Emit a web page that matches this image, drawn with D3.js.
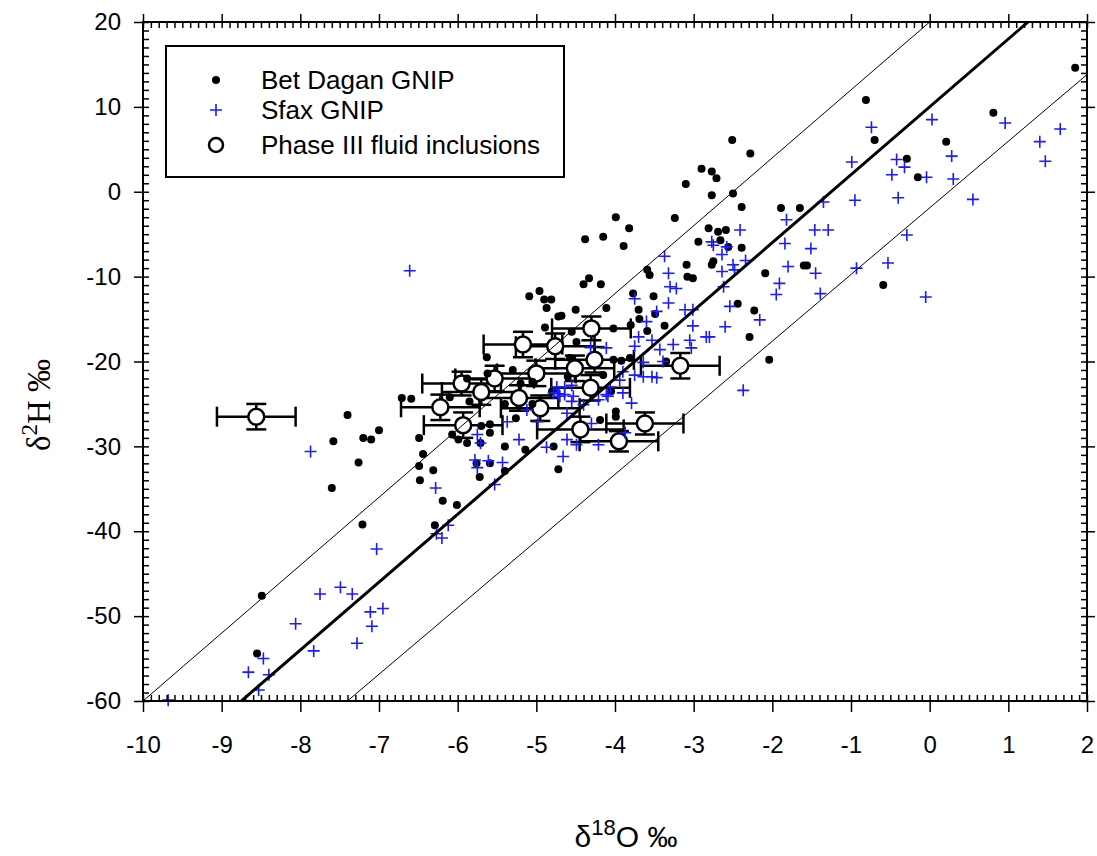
<!DOCTYPE html>
<html>
<head>
<meta charset="utf-8">
<script src="https://cdn.jsdelivr.net/npm/d3@7/dist/d3.min.js"></script>
<style>
  body { margin: 0; background: #fff; }
  svg { display: block; }
</style>
</head>
<body>
<svg id="canvas"></svg>
<script>
// Bet Dagan GNIP  [d18O, d2H]
const betDagan = [
  [-6.59,-24.4],[-7.40,-26.3],[-7.58,-29.4],[-7.20,-29.0],[-7.10,-29.2],[-7.00,-28.1],[-7.26,-31.9],
  [-7.60,-34.9],[-7.21,-39.2],[-8.49,-47.6],[-8.55,-54.4],[-6.49,-29.0],[-6.71,-24.3],
  [-6.44,-30.9],[-6.49,-32.3],[-6.31,-32.8],[-6.48,-34.0],[-6.19,-36.4],[-6.01,-36.9],[-6.29,-39.3],
  [-6.07,-28.6],[-5.99,-29.2],[-5.88,-29.6],[-5.70,-27.6],[-5.59,-27.4],[-5.59,-28.4],[-5.76,-32.0],
  [-5.59,-32.0],[-5.72,-33.6],[-5.40,-30.0],[-5.14,-30.4],[-5.26,-26.7],[-5.40,-32.9],[-4.72,-32.7],
  [-5.71,-29.6],[-4.19,-26.9],[-3.99,-25.9],[-3.99,-26.5],[-4.78,-30.0],
  [-5.09,-12.3],[-4.96,-11.7],[-4.90,-12.7],[-4.81,-12.7],[-4.87,-13.7],[-4.89,-16.0],[-4.72,-14.7],
  [-5.63,-19.5],
  [-4.38,-5.6],[-3.89,-6.4],[-2.94,-5.9],[-3.09,-8.6],[-3.59,-9.2],[-3.56,-9.8],[-3.08,-10.0],
  [-3.01,-10.2],[-4.33,-10.2],[-4.40,-10.9],[-4.18,-10.9],[-3.77,-12.0],[-3.51,-12.3],[-4.50,-13.9],
  [-4.11,-13.7],[-4.68,-14.6],[-3.70,-13.9],[-3.69,-15.0],[-3.49,-14.4],[-3.37,-15.8],[-3.59,-16.4],
  [-3.80,-15.7],[-4.02,-16.1],[-4.55,-16.5],[-4.49,-17.7],[-4.02,-19.8],[-3.92,-19.9],[-3.81,-19.6],
  [-3.35,-20.0],[-4.57,-19.6],
  [-2.51,6.1],[-2.28,4.5],[-2.90,2.7],[-2.77,2.4],[-2.71,1.6],[-3.10,0.9],[-2.77,-0.4],[-2.50,-0.2],
  [-2.39,-1.8],[-3.99,-3.0],[-3.82,-4.3],[-3.24,-3.1],[-4.15,-5.3],[-2.81,-4.3],[-2.69,-4.7],
  [-2.59,-4.5],[-2.66,-5.7],[-2.39,-6.6],
  [-2.56,-6.5],[-2.75,-8.2],[-2.77,-8.6],[-1.60,-8.7],[-1.56,-8.7],[-2.09,-9.6],[-0.59,-11.0],
  [-2.44,-13.2],[-2.23,-14.0],[-2.29,-17.1],[-2.04,-19.8],
  [-0.81,10.8],[-0.70,6.1],[0.81,9.3],[0.21,5.9],[-0.29,3.9],[-0.15,1.7],[-1.89,-1.9],[-1.65,-1.9],
  [1.85,14.6],
  [-5.88,-22.0],[-5.62,-21.4],[-5.30,-21.0],[-5.20,-22.6],[-5.05,-22.4],[-6.10,-24.2],[-5.85,-24.7],
  [-5.40,-25.0],[-5.05,-25.0],[-4.80,-23.5],[-4.60,-21.8],[-4.15,-21.6],[-4.05,-23.5]
];

// Sfax GNIP  [d18O, d2H]
const sfax = [
  [-7.87,-30.6],[-7.03,-42.1],[-7.75,-47.4],[-7.49,-46.6],[-7.34,-47.4],[-8.06,-50.9],[-7.11,-49.5],
  [-6.95,-49.1],[-7.09,-51.2],[-7.28,-53.2],[-7.83,-54.1],[-8.47,-55.0],[-8.66,-56.6],[-8.40,-56.9],
  [-8.53,-58.7],[-9.68,-59.9],[-6.61,-9.3],
  [-5.37,-27.1],[-5.75,-28.6],[-5.71,-29.6],[-5.22,-29.2],[-5.78,-31.6],[-5.75,-32.5],[-5.61,-31.7],
  [-5.43,-31.9],[-5.53,-34.5],[-6.28,-34.9],[-6.12,-39.3],[-6.20,-40.8],[-6.27,-40.3],[-4.87,-30.1],
  [-4.98,-27.1],[-5.12,-25.7],
  [-4.09,-24.1],[-3.90,-23.7],[-3.79,-24.9],[-4.66,-31.2],[-4.21,-29.8],[-4.49,-29.8],[-4.61,-29.2],
  [-4.30,-27.3],[-3.87,-28.4],[-4.61,-26.1],[-4.70,-24.1],[-4.64,-23.9],[-4.55,-24.7],[-4.53,-24.1],
  [-4.40,-25.1],[-4.21,-24.5],
  [-3.37,-7.6],[-3.32,-9.6],[-3.30,-11.2],[-3.22,-11.4],[-3.32,-13.1],[-3.75,-12.6],[-3.47,-14.1],
  [-3.11,-13.9],[-3.01,-13.9],[-3.01,-15.8],[-3.60,-15.3],[-3.70,-17.1],[-3.53,-17.5],[-3.75,-18.2],
  [-4.11,-18.4],[-3.43,-18.6],[-3.26,-18.0],[-3.05,-17.5],[-3.03,-18.4],[-2.84,-17.1],[-3.39,-20.0],
  [-3.64,-20.1],[-3.75,-21.6],[-3.64,-21.8],[-3.53,-21.8],[-3.47,-21.9],[-3.90,-21.2],[-3.94,-22.2],
  [-4.11,-23.9],[-4.06,-23.0],[-4.64,-23.0],[-4.55,-22.8],[-4.78,-23.7],[-4.31,-18.3],
  [-4.74,-23.0],[-4.72,-23.8],
  [-2.41,-4.5],[-2.77,-5.9],[-2.75,-6.3],[-2.58,-6.5],[-2.64,-7.4],[-1.46,-4.5],[-1.29,-4.5],
  [-1.84,-6.1],[-1.51,-6.7],[-2.34,-8.1],[-2.50,-8.6],[-2.48,-9.2],[-2.64,-9.4],[-1.80,-8.8],
  [-1.45,-9.6],[-0.93,-9.0],[-0.53,-8.4],[-1.91,-10.8],[-1.95,-12.1],[-1.39,-12.0],[-2.62,-11.2],
  [-2.54,-13.5],[-2.16,-15.1],[-2.60,-15.9],[-2.80,-17.1],[-2.37,-23.4],
  [-0.74,7.6],[0.03,8.5],[0.96,8.1],[1.66,7.4],[1.40,5.9],[1.47,3.6],[0.28,4.2],[-0.42,3.8],
  [-0.32,2.9],[-0.48,2.0],[-0.04,1.7],[0.30,1.5],[-0.99,3.5],[-0.95,-1.0],[-0.40,-0.7],[0.55,-0.9],
  [-1.35,-1.2],[-1.82,-3.3],[-0.29,-5.1],[-0.05,-12.4]
];

// Phase III fluid inclusions  [d18O, d2H, err d18O, err d2H]
const inclusions = [
  [-8.56,-26.5,0.50,1.5],[-5.95,-22.6,0.50,1.4],[-6.22,-25.4,0.50,1.5],[-5.93,-27.5,0.50,1.5],
  [-5.70,-23.6,0.50,1.5],[-5.53,-22.0,0.50,1.5],[-5.17,-18.0,0.50,1.5],[-5.22,-24.3,0.50,1.5],
  [-5.00,-21.4,0.50,1.5],[-4.95,-25.5,0.50,1.5],[-4.76,-18.2,0.50,1.5],[-4.51,-20.8,0.50,1.5],
  [-4.30,-16.1,0.50,1.4],[-4.26,-19.8,0.50,1.5],[-4.31,-23.1,0.50,1.5],[-4.44,-28.0,0.55,1.5],
  [-3.95,-29.4,0.50,1.2],[-3.62,-27.3,0.49,1.3],[-3.17,-20.5,0.50,1.5]
];

// reference lines  d2H = slope * d18O + intercept
const refLines = [
  { slope: 8, intercept: 20, width: 1 },
  { slope: 8, intercept: 10, width: 3 },
  { slope: 7.85, intercept: -1.9, width: 1 }
];

const xTicks = d3.range(-10, 2.01, 1);
const yTicks = d3.range(-60, 20.01, 10);
const legendLabels = ["Bet Dagan GNIP", "Sfax GNIP", "Phase III fluid inclusions"];

const svgWidth = 1097;
const svgHeight = 856;
const padLeft = 143, padRight = 1087, padTop = 22, padBottom = 701;

const svg = d3.select("#canvas")
    .attr("width", svgWidth)
    .attr("height", svgHeight)
    .style("background-color", "white");

const xScale = d3.scaleLinear().domain([-10, 2]).range([padLeft, padRight]);
const yScale = d3.scaleLinear().domain([-60, 20]).range([padBottom, padTop]);

const plot = svg.append("g");
plot.append("clipPath").attr("id", "clip")
    .append("rect")
    .attr("x", padLeft).attr("y", padTop)
    .attr("width", padRight - padLeft).attr("height", padBottom - padTop);

const blue = "#1a1aff";
const dotR = 4;

// fluid inclusions with error bars
const inc = plot.append("g").attr("clip-path", "url(#clip)");
inclusions.forEach(d => {
    const cx = xScale(d[0]), cy = yScale(d[1]);
    const x0 = xScale(d[0] - d[2]), x1 = xScale(d[0] + d[2]);
    const y0 = yScale(d[1] + d[3]), y1 = yScale(d[1] - d[3]);
    const g = inc.append("g").attr("stroke", "black").attr("stroke-width", 2.5);
    g.append("line").attr("x1", x0).attr("x2", x1).attr("y1", cy).attr("y2", cy);
    g.append("line").attr("x1", x0).attr("x2", x0).attr("y1", cy - 10).attr("y2", cy + 10);
    g.append("line").attr("x1", x1).attr("x2", x1).attr("y1", cy - 10).attr("y2", cy + 10);
    g.append("line").attr("x1", cx).attr("x2", cx).attr("y1", y0).attr("y2", y1);
    g.append("line").attr("x1", cx - 10).attr("x2", cx + 10).attr("y1", y0).attr("y2", y0);
    g.append("line").attr("x1", cx - 10).attr("x2", cx + 10).attr("y1", y1).attr("y2", y1);
});

// black dots
plot.append("g")
    .selectAll("circle")
    .data(betDagan)
    .enter()
    .append("circle")
    .attr("cx", d => xScale(d[0]))
    .attr("cy", d => yScale(d[1]))
    .attr("r", dotR)
    .attr("fill", "black");

// blue crosses
plot.append("g")
    .attr("stroke", blue)
    .attr("stroke-width", 1.6)
    .selectAll("path")
    .data(sfax)
    .enter()
    .append("path")
    .attr("d", d => {
        const x = xScale(d[0]), y = yScale(d[1]);
        return `M${x - 6},${y}H${x + 6}M${x},${y - 6}V${y + 6}`;
    });

// circles on top of the bars
inc.selectAll("circle")
    .data(inclusions)
    .enter()
    .append("circle")
    .attr("cx", d => xScale(d[0]))
    .attr("cy", d => yScale(d[1]))
    .attr("r", 8)
    .attr("fill", "white")
    .attr("stroke", "black")
    .attr("stroke-width", 2.5);

// lines
plot.append("g")
    .attr("clip-path", "url(#clip)")
    .selectAll("line")
    .data(refLines)
    .enter()
    .append("line")
    .attr("x1", xScale(-10))
    .attr("x2", xScale(2))
    .attr("y1", d => yScale(d.slope * -10 + d.intercept))
    .attr("y2", d => yScale(d.slope * 2 + d.intercept))
    .attr("stroke", "black")
    .attr("stroke-width", d => d.width);

//*************************************************************
// axes
const xMinor = d3.range(-10, 2.001, 0.1).map(v => Math.round(v * 10) / 10);
const yMinor = d3.range(-60, 20.01, 1);
const plain = d => String(d);

const axisStyle = g => {
    g.select(".domain").remove();
    g.selectAll("line").attr("stroke", "black").attr("stroke-width", 1.5);
    g.selectAll("text")
        .style("font-family", "Liberation Sans, Arial, sans-serif")
        .style("font-size", "24px")
        .attr("fill", "black");
};

svg.append("g")
    .attr("transform", "translate(0," + padBottom + ")")
    .call(d3.axisBottom(xScale).tickValues(xTicks).tickSize(11).tickPadding(24).tickFormat(plain))
    .call(axisStyle);
svg.append("g")
    .attr("transform", "translate(0," + padBottom + ")")
    .call(d3.axisBottom(xScale).tickValues(xMinor).tickSize(-6).tickFormat(""))
    .call(axisStyle);
svg.append("g")
    .attr("transform", "translate(0," + padTop + ")")
    .call(d3.axisTop(xScale).tickValues(xTicks).tickSize(8).tickFormat(""))
    .call(axisStyle);
svg.append("g")
    .attr("transform", "translate(0," + padTop + ")")
    .call(d3.axisTop(xScale).tickValues(xMinor).tickSize(-6).tickFormat(""))
    .call(axisStyle);

svg.append("g")
    .attr("transform", "translate(" + padLeft + ",0)")
    .call(d3.axisLeft(yScale).tickValues(yTicks).tickSize(9).tickPadding(13).tickFormat(plain))
    .call(axisStyle);
svg.append("g")
    .attr("transform", "translate(" + padLeft + ",0)")
    .call(d3.axisLeft(yScale).tickValues(yMinor).tickSize(-6).tickFormat(""))
    .call(axisStyle);
svg.append("g")
    .attr("transform", "translate(" + padRight + ",0)")
    .call(d3.axisRight(yScale).tickValues(yTicks).tickSize(8).tickFormat(""))
    .call(axisStyle);
svg.append("g")
    .attr("transform", "translate(" + padRight + ",0)")
    .call(d3.axisRight(yScale).tickValues(yMinor).tickSize(-6).tickFormat(""))
    .call(axisStyle);

svg.append("rect")
    .attr("x", padLeft).attr("y", padTop)
    .attr("width", padRight - padLeft).attr("height", padBottom - padTop)
    .attr("fill", "none")
    .attr("stroke", "black")
    .attr("stroke-width", 2);

// axis titles
const xTitle = svg.append("text")
    .attr("x", 626).attr("y", 847)
    .attr("text-anchor", "middle")
    .style("font-family", "Liberation Sans, Arial, sans-serif")
    .style("font-size", "30px")
    .attr("fill", "black");
xTitle.append("tspan").text("δ");
xTitle.append("tspan").attr("dy", -12).style("font-size", "22px").text("18");
xTitle.append("tspan").attr("dy", 12).text("O ‰");

const yTitle = svg.append("text")
    .attr("transform", "translate(50,405) rotate(-90)")
    .attr("text-anchor", "middle")
    .style("font-family", "Liberation Serif, Times New Roman, serif")
    .style("font-size", "33px")
    .attr("fill", "black");
yTitle.append("tspan").text("δ");
yTitle.append("tspan").attr("dy", -13).style("font-size", "23px").text("2");
yTitle.append("tspan").attr("dy", 13).text("H ‰");

// legend
const legend = svg.append("g");
legend.append("rect")
    .attr("x", 166).attr("y", 46)
    .attr("width", 398).attr("height", 131)
    .attr("fill", "white")
    .attr("stroke", "black")
    .attr("stroke-width", 2);

const legendY = [80, 110, 145];
legend.append("circle").attr("cx", 216).attr("cy", legendY[0]).attr("r", dotR).attr("fill", "black");
legend.append("path")
    .attr("d", `M210,${legendY[1]}H222M216,${legendY[1] - 6}V${legendY[1] + 6}`)
    .attr("stroke", blue).attr("stroke-width", 1.6);
legend.append("circle").attr("cx", 216).attr("cy", legendY[2]).attr("r", 7)
    .attr("fill", "white").attr("stroke", "black").attr("stroke-width", 2.5);

legend.selectAll("text")
    .data(legendLabels)
    .enter()
    .append("text")
    .attr("x", 261)
    .attr("y", (d, i) => legendY[i] + 9)
    .style("font-family", "Liberation Sans, Arial, sans-serif")
    .style("font-size", "26px")
    .attr("fill", "black")
    .text(d => d);
</script>
</body>
</html>
